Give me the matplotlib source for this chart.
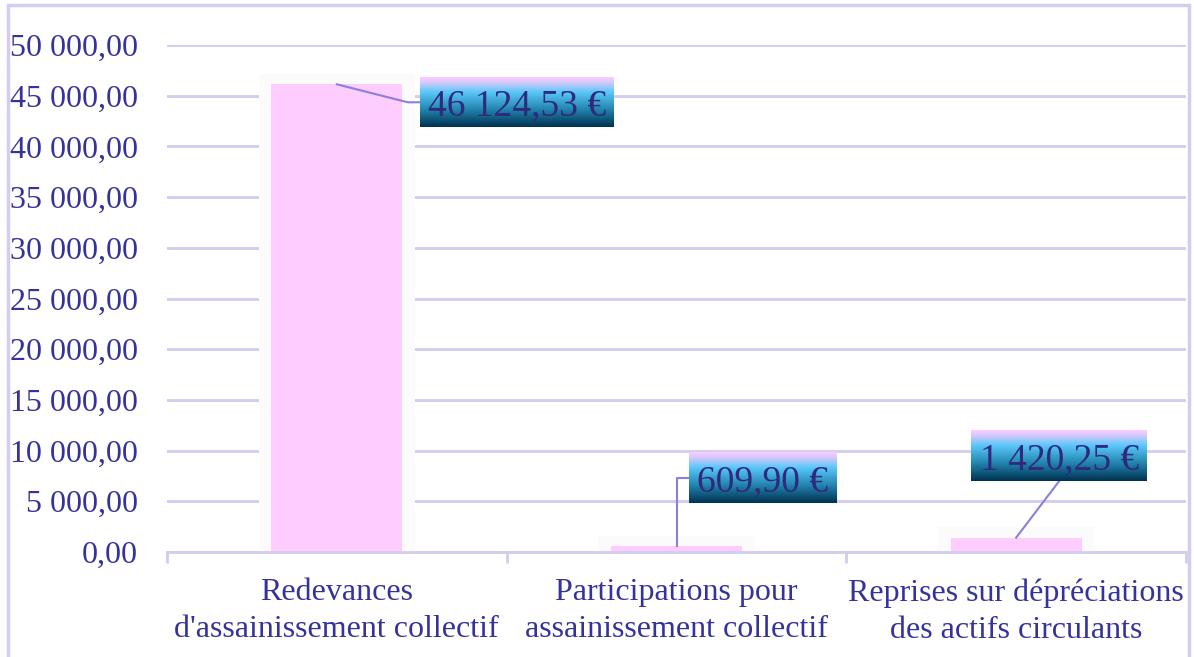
import numpy as np
import matplotlib
matplotlib.use('Agg')
import matplotlib.pyplot as plt
from matplotlib.colors import LinearSegmentedColormap
from matplotlib.patches import Rectangle

categories = ["Redevances\nd'assainissement collectif",
              "Participations pour\nassainissement collectif",
              "Reprises sur dépréciations\ndes actifs circulants"]
values = [46124.53, 609.90, 1420.25]
labels = ["46 124,53 €", "609,90 €", "1 420,25 €"]
yticks = np.arange(0, 50001, 5000)
ytick_labels = ["0,00", "5 000,00", "10 000,00", "15 000,00", "20 000,00", "25 000,00",
                "30 000,00", "35 000,00", "40 000,00", "45 000,00", "50 000,00"]

# label box placement, pixels relative to the bar top (dx, dy up), box size, leader style
label_offsets = [(180, -18), (86, 68), (43, 82)]
box_sizes = [(194, 50), (148, 51), (176, 51)]
leader_elbow = [True, True, False]

txt_col = '#35339a'
box_txt_col = '#2f2a80'
grid_col = '#d2ccf0'
line_col = '#8a7fdc'
font = ['Liberation Serif', 'DejaVu Serif']

W, H = 1194, 657
fig = plt.figure(figsize=(W / 100, H / 100), dpi=100)
ax = fig.add_axes([167 / W, (H - 552) / H, 1019 / W, 507 / H])

# border round the chart
fig.patches.append(Rectangle((8 / W, -0.05), 1181 / W, 1.05 - 5 / H, transform=fig.transFigure,
                             fill=False, edgecolor='#d4ccf2', linewidth=2.5))

x = np.arange(len(categories))
# faint halo behind bars
ax.bar(x, np.array(values) + 2200, width=0.46, bottom=-1200, color='#fbfbfc', zorder=1)
ax.bar(x, values, width=0.386, color='#ffccff', zorder=2)

ax.set_xlim(-0.5, 2.5)
ax.set_ylim(0, 50000)
ax.set_yticks(yticks)
ax.set_yticklabels(ytick_labels, fontsize=23, color=txt_col, family=font)
ax.tick_params(axis='y', length=0, pad=21)
ax.yaxis.grid(True, color=grid_col, linewidth=2)
ax.set_axisbelow(True)
ax.set_xticks(x)
ax.set_xticklabels(categories, fontsize=23, color=txt_col, family=font, linespacing=1.35)
ax.set_xticks([-0.5, 0.5, 1.5, 2.5], minor=True)
ax.tick_params(axis='x', which='major', length=0, pad=19)
ax.tick_params(axis='x', which='minor', length=8, width=2, color=grid_col)
for s in ['top', 'right', 'left']:
    ax.spines[s].set_visible(False)
ax.spines['bottom'].set_color(grid_col)
ax.spines['bottom'].set_linewidth(2)

cmap = LinearSegmentedColormap.from_list('lbl', [(0, '#ffccff'), (0.1, '#d8c8fb'), (0.3, '#5ac8fa'),
                                                  (0.65, '#2284ae'), (1, '#003150')])
grad = np.linspace(0, 1, 256).reshape(-1, 1)

fig.canvas.draw()
inv = ax.transData.inverted()
for i, v in enumerate(values):
    px, py = ax.transData.transform((x[i], v))
    dx, dy = label_offsets[i]
    bw, bh = box_sizes[i]
    cx, cy = px + dx, py + dy
    x0, y0 = inv.transform((cx - bw / 2, cy - bh / 2))
    x1, y1 = inv.transform((cx + bw / 2, cy + bh / 2))
    ax.imshow(grad, cmap=cmap, extent=(x0, x1, y0, y1), aspect='auto', zorder=5, clip_on=False)
    ax.text((x0 + x1) / 2, (y0 + y1) / 2, labels[i], ha='center', va='center_baseline', fontsize=27,
            color=box_txt_col, family=font, zorder=6, clip_on=False)
    if leader_elbow[i]:
        ex, ey = cx - bw / 2 - 12, cy
        pts = [(px, py), (ex, ey), (cx - bw / 2, cy)]
    else:
        pts = [(px, py), (cx, cy - bh / 2)]
    d = inv.transform(pts)
    ax.plot(d[:, 0], d[:, 1], color=line_col, linewidth=1.5, zorder=4, clip_on=False)

ax.set_xlim(-0.5, 2.5)
ax.set_ylim(0, 50000)

fig.savefig('out.png', dpi=100)
